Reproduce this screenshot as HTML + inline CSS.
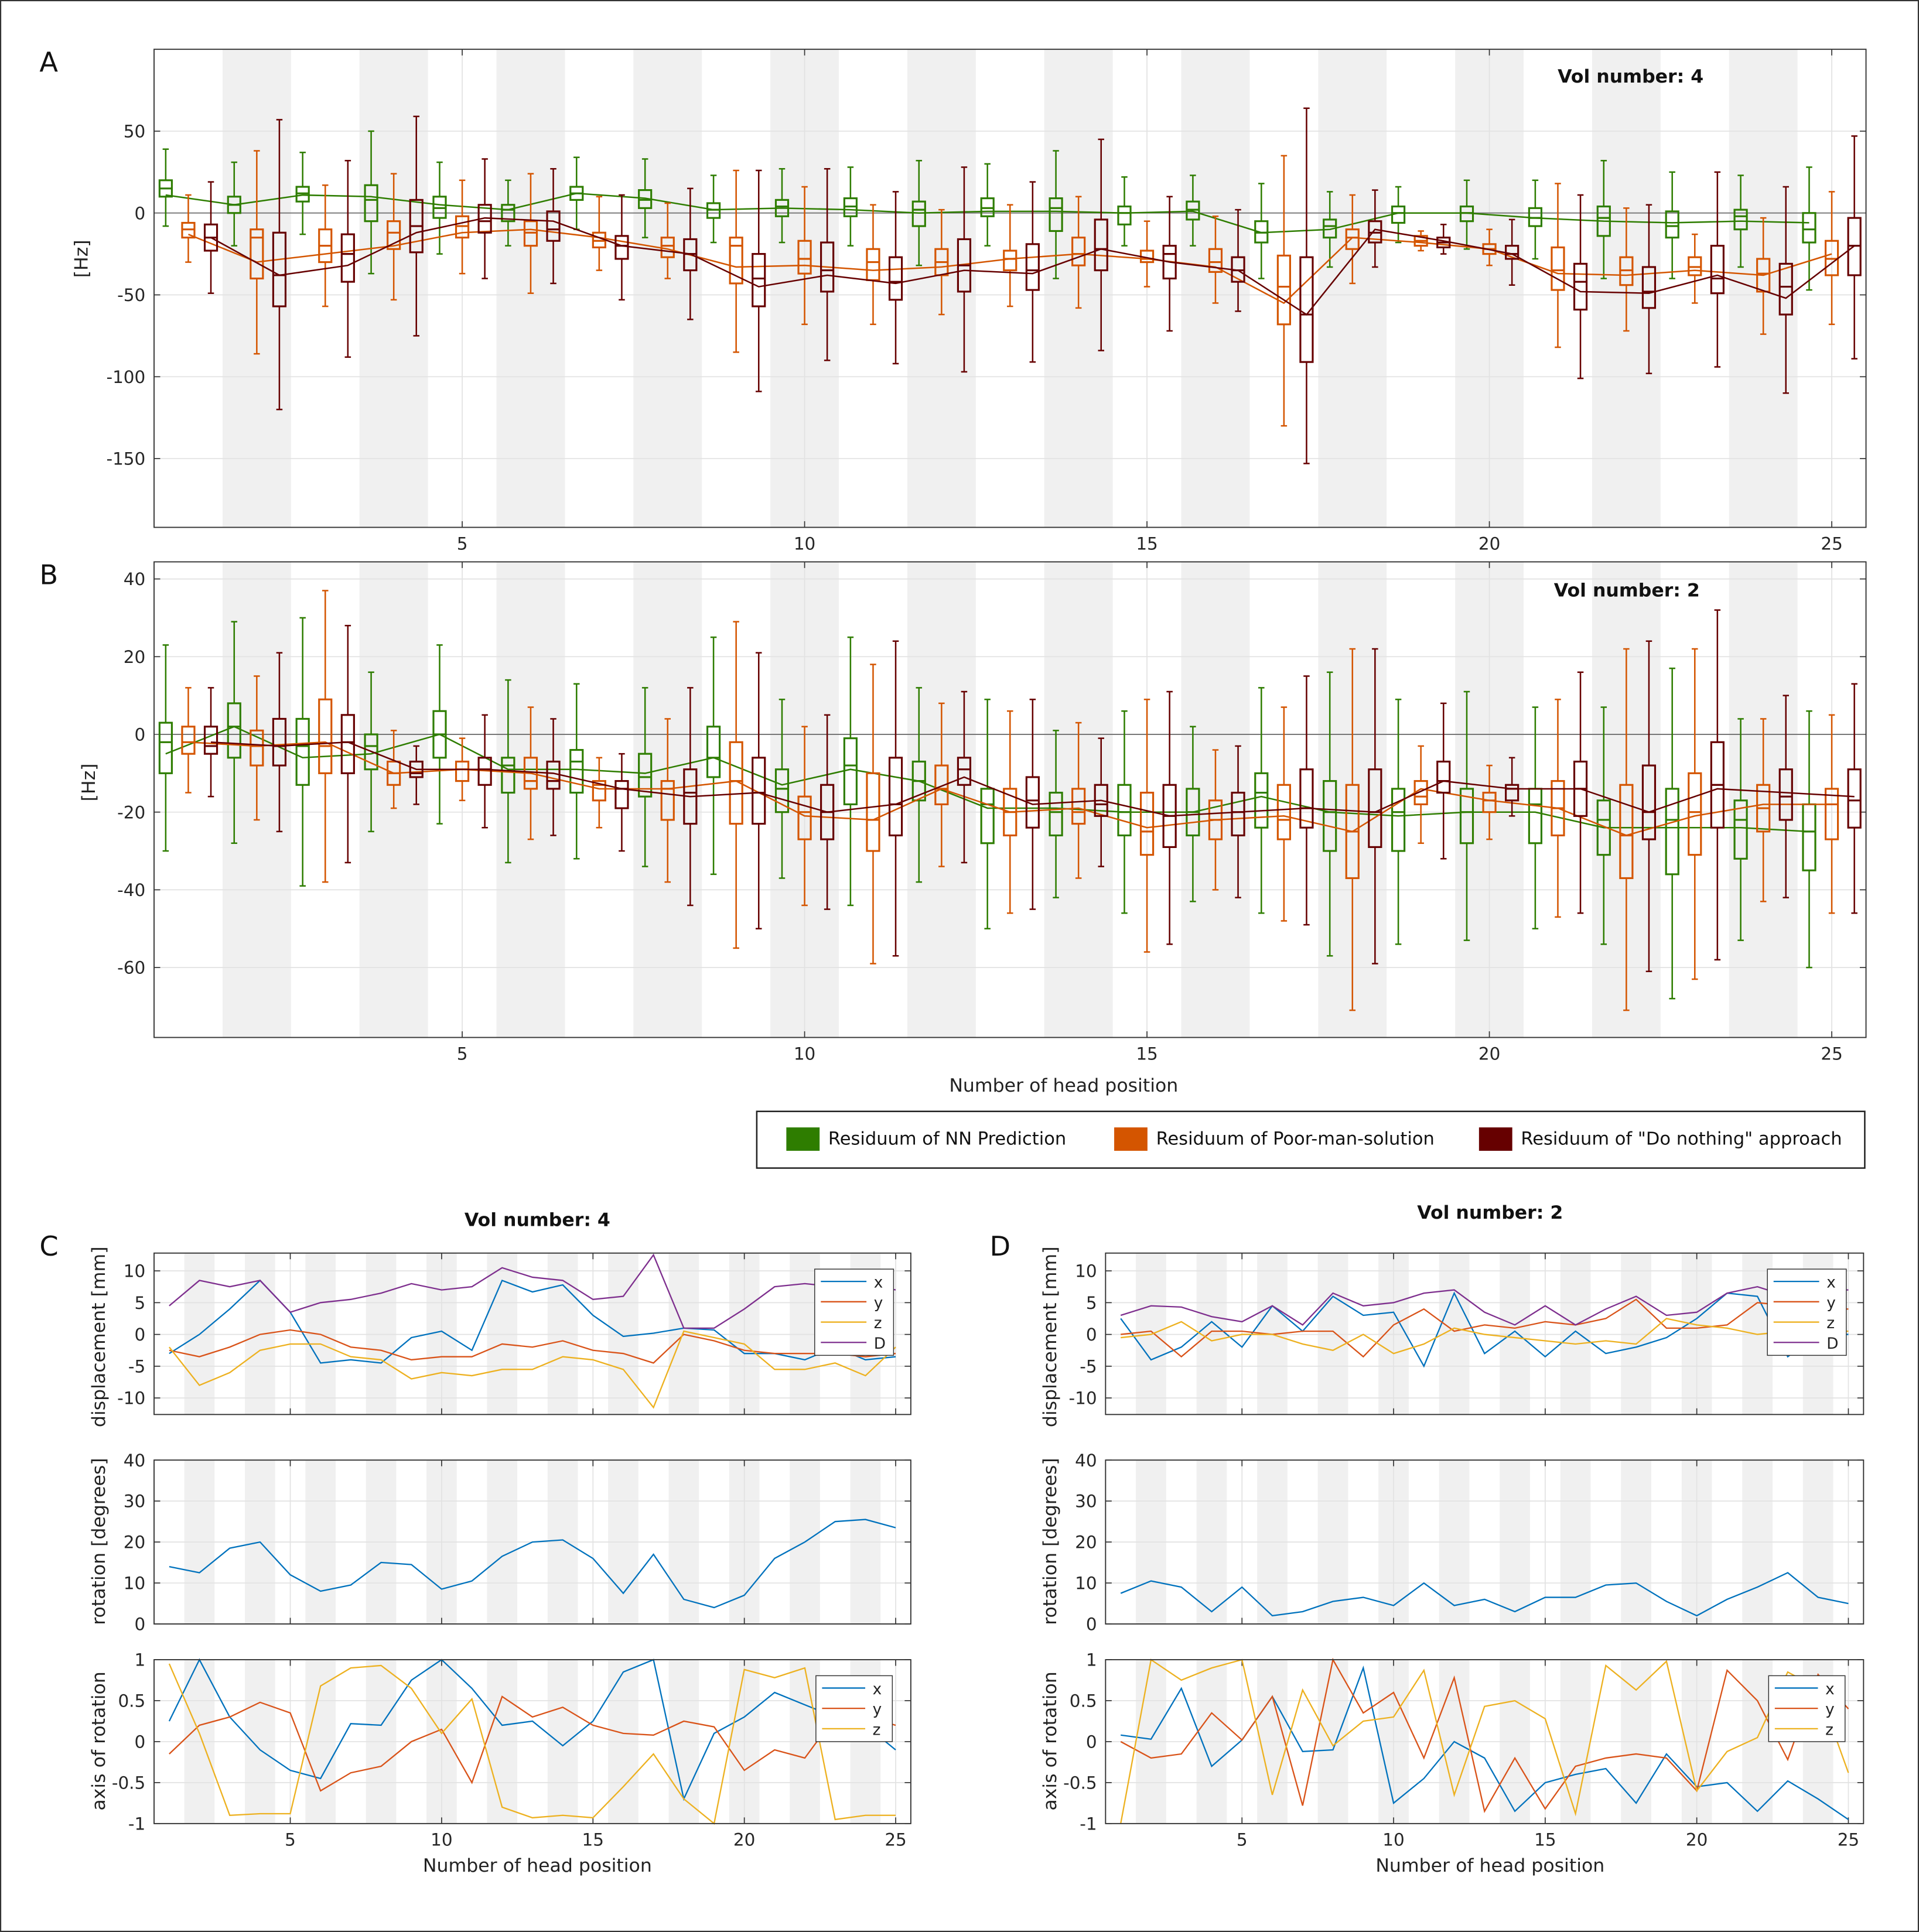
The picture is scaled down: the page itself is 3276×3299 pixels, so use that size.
<!DOCTYPE html>
<html><head><meta charset="utf-8"><style>
html,body{margin:0;padding:0;background:#fff}
svg{display:block;font-family:"DejaVu Sans","Liberation Sans",sans-serif}
</style></head><body>
<svg id="fig" xmlns="http://www.w3.org/2000/svg" width="3276" height="3299" viewBox="0 0 1557 1568" preserveAspectRatio="none">
<rect x="0.5" y="0.5" width="1556" height="1567" fill="#fff" stroke="#333" stroke-width="1"/>
</svg>
<script>
const positions = [1,2,3,4,5,6,7,8,9,10,11,12,13,14,15,16,17,18,19,20,21,22,23,24,25];
const aGreen = [[15,10,20,-8,39],[5,0,10,-20,31],[12,7,16,-13,37],[8,-5,17,-37,50],[3,-3,10,-25,31],[2,-5,5,-20,20],[12,8,16,-10,34],[8,3,14,-15,33],[2,-3,6,-18,23],[4,-2,8,-18,27],[4,-2,9,-20,28],[2,-8,7,-32,32],[3,-2,9,-20,30],[3,-11,9,-40,38],[0,-7,4,-20,22],[2,-4,7,-20,23],[-12,-18,-5,-40,18],[-8,-15,-4,-33,13],[0,-6,4,-18,16],[0,-5,4,-22,20],[-3,-8,3,-28,20],[-3,-14,4,-40,32],[-8,-15,1,-40,25],[-2,-10,2,-33,23],[-10,-18,0,-47,28]];
const aOrange = [[-10,-15,-6,-30,11],[-15,-40,-10,-86,38],[-20,-30,-10,-57,17],[-12,-22,-5,-53,24],[-8,-15,-2,-37,20],[-12,-20,-5,-49,24],[-17,-21,-12,-35,10],[-20,-27,-15,-40,6],[-20,-43,-15,-85,26],[-28,-37,-17,-68,16],[-30,-41,-22,-68,5],[-30,-38,-22,-62,2],[-28,-35,-23,-57,5],[-25,-32,-15,-58,10],[-28,-30,-23,-45,-5],[-30,-36,-22,-55,-2],[-45,-68,-26,-130,35],[-15,-22,-10,-43,11],[-17,-20,-14,-23,-11],[-22,-25,-19,-32,-10],[-35,-47,-21,-82,18],[-35,-44,-27,-72,3],[-33,-38,-27,-55,-13],[-37,-48,-28,-74,-3],[-28,-38,-17,-68,13]];
const aRed = [[-15,-23,-7,-49,19],[-38,-57,-12,-120,57],[-25,-42,-13,-88,32],[-8,-24,8,-75,59],[-5,-12,5,-40,33],[-10,-17,1,-43,27],[-20,-28,-14,-53,11],[-25,-35,-16,-65,15],[-40,-57,-25,-109,26],[-35,-48,-18,-90,27],[-42,-53,-27,-92,13],[-32,-48,-16,-97,28],[-35,-47,-19,-91,19],[-22,-35,-4,-84,45],[-25,-40,-20,-72,10],[-35,-42,-27,-60,2],[-62,-91,-27,-153,64],[-12,-18,-5,-33,14],[-18,-21,-15,-25,-7],[-25,-28,-20,-44,-4],[-42,-59,-31,-101,11],[-48,-58,-33,-98,5],[-40,-49,-20,-94,25],[-45,-62,-31,-110,16],[-20,-38,-3,-89,47]];
const aGreenMean = [11,5,11,10,5,2,12,9,2,3,2,0,1,1,0,1,-12,-10,0,0,-3,-5,-6,-5,-6];
const aOrangeMean = [-13,-30,-25,-20,-12,-10,-15,-22,-33,-32,-35,-33,-28,-25,-28,-33,-55,-15,-18,-22,-37,-38,-35,-38,-25];
const aRedMean = [-15,-38,-32,-12,-3,-5,-20,-25,-45,-38,-43,-35,-37,-22,-30,-35,-62,-10,-17,-25,-48,-49,-38,-52,-20];
const aTicks = [50,0,-50,-100,-150];
const bGreen = [[-2,-10,3,-30,23],[2,-6,8,-28,29],[-3,-13,4,-39,30],[-3,-9,0,-25,16],[0,-6,6,-23,23],[-8,-15,-6,-33,14],[-7,-15,-4,-32,13],[-11,-16,-5,-34,12],[-6,-11,2,-36,25],[-14,-20,-9,-37,9],[-8,-18,-1,-44,25],[-12,-17,-7,-38,12],[-18,-28,-14,-50,9],[-20,-26,-15,-42,1],[-20,-26,-13,-46,6],[-20,-26,-14,-43,2],[-15,-24,-10,-46,12],[-20,-30,-12,-57,16],[-20,-30,-14,-54,9],[-20,-28,-14,-53,11],[-18,-28,-14,-50,7],[-22,-31,-17,-54,7],[-22,-36,-14,-68,17],[-22,-32,-17,-53,4],[-25,-35,-18,-60,6]];
const bOrange = [[-2,-5,2,-15,12],[-3,-8,1,-22,15],[-3,-10,9,-38,37],[-10,-13,-7,-19,1],[-9,-12,-7,-17,-1],[-12,-14,-6,-27,7],[-13,-17,-12,-24,-6],[-14,-22,-12,-38,4],[-12,-23,-2,-55,29],[-20,-27,-16,-44,2],[-22,-30,-10,-59,18],[-14,-18,-8,-34,8],[-20,-26,-14,-46,6],[-20,-23,-14,-37,3],[-25,-31,-15,-56,9],[-22,-27,-17,-40,-4],[-22,-27,-13,-48,7],[-25,-37,-13,-71,22],[-16,-18,-12,-28,-3],[-17,-20,-15,-27,-8],[-19,-26,-12,-47,9],[-26,-37,-13,-71,22],[-20,-31,-10,-63,22],[-19,-25,-13,-43,4],[-18,-27,-14,-46,5]];
const bRed = [[-3,-5,2,-16,12],[-3,-8,4,-25,21],[-2,-10,5,-33,28],[-10,-11,-7,-18,-3],[-9,-13,-6,-24,5],[-12,-14,-7,-26,4],[-14,-19,-12,-30,-5],[-15,-23,-9,-44,12],[-15,-23,-6,-50,21],[-20,-27,-13,-45,5],[-18,-26,-6,-57,24],[-9,-13,-6,-33,11],[-17,-24,-11,-45,9],[-18,-21,-13,-34,-1],[-21,-29,-13,-54,11],[-20,-26,-15,-42,-3],[-19,-24,-9,-49,15],[-20,-29,-9,-59,22],[-12,-15,-7,-32,8],[-14,-17,-13,-21,-6],[-14,-21,-7,-46,16],[-20,-27,-8,-61,24],[-13,-24,-2,-58,32],[-16,-22,-9,-42,10],[-17,-24,-9,-46,13]];
const bGreenMean = [-5,2,-6,-5,0,-9,-9,-10,-6,-13,-9,-12,-19,-19,-20,-20,-16,-20,-21,-20,-20,-24,-24,-24,-25];
const bOrangeMean = [-2,-3,-2,-10,-9,-10,-14,-14,-12,-21,-22,-14,-20,-19,-24,-22,-21,-25,-14,-17,-19,-26,-21,-18,-18];
const bRedMean = [-2,-3,-2,-9,-9,-10,-14,-16,-15,-20,-18,-11,-18,-17,-21,-20,-19,-20,-12,-14,-14,-20,-14,-15,-16];
const bTicks = [40,20,0,-20,-40,-60];
const xTicks = [5,10,15,20,25];
const cDispX = [-3,0,4,8.5,3.5,-4.5,-4,-4.5,-0.5,0.5,-2.5,8.5,6.7,7.8,3,-0.3,0.2,1,0.7,-3,-3,-4,-2,-4,-3.5];
const cDispY = [-2.5,-3.5,-2,0,0.7,0,-2,-2.5,-4,-3.5,-3.5,-1.5,-2,-1,-2.5,-3,-4.5,0,-1,-2.5,-3,-3,-3,-3.5,-3];
const cDispZ = [-2,-8,-6,-2.5,-1.5,-1.5,-3.5,-4,-7,-6,-6.5,-5.5,-5.5,-3.5,-4,-5.5,-11.5,0.5,-0.5,-1.5,-5.5,-5.5,-4.5,-6.5,-2];
const cDispD = [4.5,8.5,7.5,8.5,3.5,5,5.5,6.5,8,7,7.5,10.5,9,8.5,5.5,6,12.5,1,1,4,7.5,8,7.5,8,7];
const cRot = [14,12.5,18.5,20,12,8,9.5,15,14.5,8.5,10.5,16.5,20,20.5,16,7.5,17,6,4,7,16,20,25,25.5,23.5];
const cAxX = [0.25,1,0.3,-0.1,-0.35,-0.45,0.22,0.2,0.75,1,0.65,0.2,0.25,-0.05,0.25,0.85,1,-0.7,0.1,0.3,0.6,0.45,0.3,0.2,-0.1];
const cAxY = [-0.15,0.2,0.3,0.48,0.35,-0.6,-0.38,-0.3,0,0.15,-0.5,0.55,0.3,0.42,0.2,0.1,0.08,0.25,0.18,-0.35,-0.1,-0.2,0.3,0.3,0.2];
const cAxZ = [0.95,0.1,-0.9,-0.88,-0.88,0.68,0.9,0.93,0.65,0.1,0.52,-0.8,-0.93,-0.9,-0.93,-0.55,-0.15,-0.7,-1,0.88,0.78,0.9,-0.95,-0.9,-0.9];
const dDispX = [2.5,-4,-2,2,-2,4.5,0.5,6,3,3.5,-5,6.5,-3,0.5,-3.5,0.5,-3,-2,-0.5,2.5,6.5,6,-3.5,0,0];
const dDispY = [0,0.5,-3.5,0.5,0.5,0,0.5,0.5,-3.5,1.5,4,0.5,1.5,1,2,1.5,2.5,5.5,1,1,1.5,5,4.5,4,4];
const dDispZ = [-0.5,0,2,-1,0,0,-1.5,-2.5,0,-3,-1.5,1,0,-0.5,-1,-1.5,-1,-1.5,2.5,1.5,1,0,0.5,0.5,0.5];
const dDispD = [3,4.5,4.3,2.8,2,4.5,1.5,6.5,4.5,5,6.5,7,3.5,1.5,4.5,1.5,4,6,3,3.5,6.5,7.5,6,7,7];
const dRot = [7.5,10.5,9,3,9,2,3,5.5,6.5,4.5,10,4.5,6,3,6.5,6.5,9.5,10,5.5,2,6,9,12.5,6.5,5];
const dAxX = [0.08,0.03,0.65,-0.3,0.02,0.55,-0.12,-0.1,0.9,-0.75,-0.45,0,-0.2,-0.85,-0.5,-0.4,-0.33,-0.75,-0.15,-0.55,-0.5,-0.85,-0.48,-0.7,-0.95];
const dAxY = [0,-0.2,-0.15,0.35,0.02,0.55,-0.78,1,0.35,0.6,-0.2,0.78,-0.85,-0.2,-0.82,-0.3,-0.2,-0.15,-0.2,-0.6,0.87,0.5,-0.22,0.82,0.4];
const dAxZ = [-1,1,0.75,0.9,1,-0.65,0.63,-0.05,0.25,0.3,0.87,-0.65,0.43,0.5,0.28,-0.88,0.93,0.63,0.98,-0.6,-0.12,0.05,0.85,0.65,-0.38];
const dispTicks = [10,5,0,-5,-10];
const rotTicks = [40,30,20,10,0];
const axTicks = [1,0.5,0,-0.5,-1];
const axTickLabels = ['1','0.5','0','-0.5','-1'];

const NS = 'http://www.w3.org/2000/svg';
const svg = document.getElementById('fig');
function mk(tag, attrs, parent, text){
  const e = document.createElementNS(NS, tag);
  for (const k in attrs) e.setAttribute(k, attrs[k]);
  if (text !== undefined) e.textContent = text;
  (parent || svg).appendChild(e);
  return e;
}
const GREEN='#2e7d00', ORANGE='#d45500', DRED='#660000';
const MB='#0072BD', MO='#D95319', MY='#EDB120', MP='#7E2F8E';

function makeAxes(name, x0, y0, x1, y1, ymin, ymax, ticks, tickLabels, fs, showXLabels){
  const g = mk('g', {});
  
  
  const sx = v => x0 + (v - 0.5) / 25 * (x1 - x0);
  const sy = v => y1 - (v - ymin) / (ymax - ymin) * (y1 - y0);
  mk('rect', {x:x0, y:y0, width:x1-x0, height:y1-y0, fill:'#fff'}, g);
  for (let p = 2; p <= 24; p += 2) {
    const b = mk('rect', {x:sx(p-0.5), y:y0, width:sx(p+0.5)-sx(p-0.5), height:y1-y0, fill:'#f0f0f0'}, g);
    
    
  }
  ticks.forEach((t, i) => {
    mk('line', {x1:x0, x2:x1, y1:sy(t), y2:sy(t), stroke:'#e2e2e2', 'stroke-width':0.8}, g);
    mk('line', {x1:x0, x2:x0+5, y1:sy(t), y2:sy(t), stroke:'#333', 'stroke-width':0.8}, g);
    mk('line', {x1:x1-5, x2:x1, y1:sy(t), y2:sy(t), stroke:'#333', 'stroke-width':0.8}, g);
    const tl = mk('text', {x:x0-7, y:sy(t)+fs*0.36, 'font-size':fs, 'text-anchor':'end', fill:'#262626'}, g, tickLabels ? tickLabels[i] : String(t));
    
    
  });
  xTicks.forEach(t => {
    mk('line', {x1:sx(t), x2:sx(t), y1:y0, y2:y1, stroke:'#e2e2e2', 'stroke-width':0.8}, g);
    mk('line', {x1:sx(t), x2:sx(t), y1:y1, y2:y1-5, stroke:'#333', 'stroke-width':0.8}, g);
    mk('line', {x1:sx(t), x2:sx(t), y1:y0, y2:y0+5, stroke:'#333', 'stroke-width':0.8}, g);
    if (showXLabels) {
      const tl = mk('text', {x:sx(t), y:y1+fs+4, 'font-size':fs, 'text-anchor':'middle', fill:'#262626'}, g, String(t));
      
      
    }
  });
  return {g, sx, sy, x0, y0, x1, y1};
}
function frame(ax){ mk('rect', {x:ax.x0, y:ax.y0, width:ax.x1-ax.x0, height:ax.y1-ax.y0, fill:'none', stroke:'#333', 'stroke-width':0.9}, ax.g); }

function boxSeries(ax, data, means, off, color, name){
  const g = mk('g', {}, ax.g);
  
  
  const pts = means.map((m, i) => ax.sx(positions[i]+off).toFixed(1) + ',' + ax.sy(m).toFixed(1)).join(' ');
  const ln = mk('polyline', {points:pts, fill:'none', stroke:color, 'stroke-width':1.2}, g);
  
  
  data.forEach((d, i) => {
    const cx = ax.sx(positions[i] + off), w = ax.sx(0.68) - ax.sx(0.5);
    const [med, q1, q3, lo, hi] = d;
    const b = mk('g', {}, g);
    
    
    mk('line', {x1:cx, x2:cx, y1:ax.sy(hi), y2:ax.sy(q3), stroke:color, 'stroke-width':1.2}, b);
    mk('line', {x1:cx, x2:cx, y1:ax.sy(q1), y2:ax.sy(lo), stroke:color, 'stroke-width':1.2}, b);
    mk('line', {x1:cx-2.5, x2:cx+2.5, y1:ax.sy(hi), y2:ax.sy(hi), stroke:color, 'stroke-width':1.2}, b);
    mk('line', {x1:cx-2.5, x2:cx+2.5, y1:ax.sy(lo), y2:ax.sy(lo), stroke:color, 'stroke-width':1.2}, b);
    mk('rect', {x:cx-w/2, y:ax.sy(q3), width:w, height:Math.max(ax.sy(q1)-ax.sy(q3),1), fill:'none', stroke:color, 'stroke-width':1.5}, b);
    mk('line', {x1:cx-w/2, x2:cx+w/2, y1:ax.sy(med), y2:ax.sy(med), stroke:color, 'stroke-width':1.5}, b);
  });
}

const A = makeAxes('panel-a-axes', 125, 40, 1514, 428, -192, 100, aTicks, null, 14, true);
mk('line', {x1:125, x2:1514, y1:A.sy(0), y2:A.sy(0), stroke:'#777', 'stroke-width':0.9}, A.g);
boxSeries(A, aGreen, aGreenMean, -0.33, GREEN, 'nn-prediction');
boxSeries(A, aOrange, aOrangeMean, 0, ORANGE, 'poor-man-solution');
boxSeries(A, aRed, aRedMean, 0.33, DRED, 'do-nothing');
frame(A);
const B = makeAxes('panel-b-axes', 125, 456, 1514, 842, -78, 44.4, bTicks, null, 14, true);
mk('line', {x1:125, x2:1514, y1:B.sy(0), y2:B.sy(0), stroke:'#777', 'stroke-width':0.9}, B.g);
boxSeries(B, bGreen, bGreenMean, -0.33, GREEN, 'nn-prediction');
boxSeries(B, bOrange, bOrangeMean, 0, ORANGE, 'poor-man-solution');
boxSeries(B, bRed, bRedMean, 0.33, DRED, 'do-nothing');
frame(B);

function txt(name, attrs, s){ const t = mk('text', attrs, svg, s);   return t; }
txt('panel-label-a', {x:32, y:58, 'font-size':22, fill:'#111'}, 'A');
txt('panel-label-b', {x:32, y:474, 'font-size':22, fill:'#111'}, 'B');
txt('panel-label-c', {x:32, y:1019, 'font-size':22, fill:'#111'}, 'C');
txt('panel-label-d', {x:803, y:1019, 'font-size':22, fill:'#111'}, 'D');
txt('panel-a-title', {x:1323, y:67, 'font-size':15, 'font-weight':'bold', 'text-anchor':'middle', fill:'#111'}, 'Vol number: 4');
txt('panel-b-title', {x:1320, y:484, 'font-size':15, 'font-weight':'bold', 'text-anchor':'middle', fill:'#111'}, 'Vol number: 2');
txt('panel-a-y-title', {x:0, y:0, 'font-size':15, 'text-anchor':'middle', fill:'#222', transform:'translate(71,210) rotate(-90)'}, '[Hz]');
txt('panel-b-y-title', {x:0, y:0, 'font-size':15, 'text-anchor':'middle', fill:'#222', transform:'translate(77,635) rotate(-90)'}, '[Hz]');
txt('x-axis-title', {x:863, y:886, 'font-size':15, 'text-anchor':'middle', fill:'#222'}, 'Number of head position');

const lg = mk('g', {});  
mk('rect', {x:614, y:902, width:899, height:46, fill:'#fff', stroke:'#222', 'stroke-width':1.2}, lg);
[[638, GREEN, 'Residuum of NN Prediction'], [904, ORANGE, 'Residuum of Poor-man-solution'], [1200, DRED, 'Residuum of "Do nothing" approach']].forEach(e => {
  const en = mk('g', {}, lg);  
  mk('rect', {x:e[0], y:915, width:27, height:19, fill:e[1]}, en);
  mk('text', {x:e[0]+34, y:929, 'font-size':14.5, fill:'#111'}, en, e[2]);
});

function lines(ax, series, colors, name){
  series.forEach((s, k) => {
    const pts = s.map((v, i) => ax.sx(positions[i]).toFixed(1) + ',' + ax.sy(v).toFixed(1)).join(' ');
    const l = mk('polyline', {points:pts, fill:'none', stroke:colors[k], 'stroke-width':1.1}, ax.g);
    
    
  });
}
function smallLegend(ax, x, y, w, labels, colors, name){
  const g = mk('g', {}, ax.g);  
  mk('rect', {x:x, y:y, width:w, height:labels.length*16.5+4, fill:'#fff', stroke:'#333', 'stroke-width':0.7}, g);
  labels.forEach((l, i) => {
    mk('line', {x1:x+5, x2:x+w-22, y1:y+10+i*16.5, y2:y+10+i*16.5, stroke:colors[i], 'stroke-width':1.1}, g);
    mk('text', {x:x+w-16, y:y+15+i*16.5, 'font-size':12.5, fill:'#222'}, g, l);
  });
}
function column(prefix, x0, x1, disp, rot, ax3, cx, title, titleY){
  const a1 = makeAxes(prefix+'-displacement-axes', x0, 1017, x1, 1148, -12.6, 12.8, dispTicks, null, 14, false);
  lines(a1, disp, [MB, MO, MY, MP], prefix+'-displacement');
  smallLegend(a1, x1-78, 1030, 64, ['x','y','z','D'], [MB, MO, MY, MP], prefix+'-displacement-legend');
  frame(a1);
  const a2 = makeAxes(prefix+'-rotation-axes', x0, 1185, x1, 1318, 0, 40, rotTicks, null, 14, false);
  lines(a2, [rot], [MB], prefix+'-rotation');
  frame(a2);
  const a3 = makeAxes(prefix+'-axis-of-rotation-axes', x0, 1347, x1, 1480, -1, 1, axTicks, axTickLabels, 14, true);
  lines(a3, ax3, [MB, MO, MY], prefix+'-axis-rotation');
  smallLegend(a3, x1-77, 1360, 62, ['x','y','z'], [MB, MO, MY], prefix+'-axis-legend');
  frame(a3);
  txt(prefix+'-title', {x:cx, y:titleY, 'font-size':15, 'font-weight':'bold', 'text-anchor':'middle', fill:'#111'}, title);
  txt(prefix+'-x-axis-title', {x:cx, y:1519, 'font-size':15, 'text-anchor':'middle', fill:'#222'}, 'Number of head position');
  const yx = x0 - 40;
  txt(prefix+'-displacement-y-title', {x:0, y:0, 'font-size':15, 'text-anchor':'middle', fill:'#222', transform:'translate('+yx+',1085) rotate(-90)'}, 'displacement [mm]');
  txt(prefix+'-rotation-y-title', {x:0, y:0, 'font-size':15, 'text-anchor':'middle', fill:'#222', transform:'translate('+yx+',1251) rotate(-90)'}, 'rotation [degrees]');
  txt(prefix+'-axis-y-title', {x:0, y:0, 'font-size':15, 'text-anchor':'middle', fill:'#222', transform:'translate('+yx+',1413) rotate(-90)'}, 'axis of rotation');
}
column('panel-c', 125, 739, [cDispX, cDispY, cDispZ, cDispD], cRot, [cAxX, cAxY, cAxZ], 436, 'Vol number: 4', 995);
column('panel-d', 897, 1512, [dDispX, dDispY, dDispZ, dDispD], dRot, [dAxX, dAxY, dAxZ], 1209, 'Vol number: 2', 989);
</script>
</body></html>
